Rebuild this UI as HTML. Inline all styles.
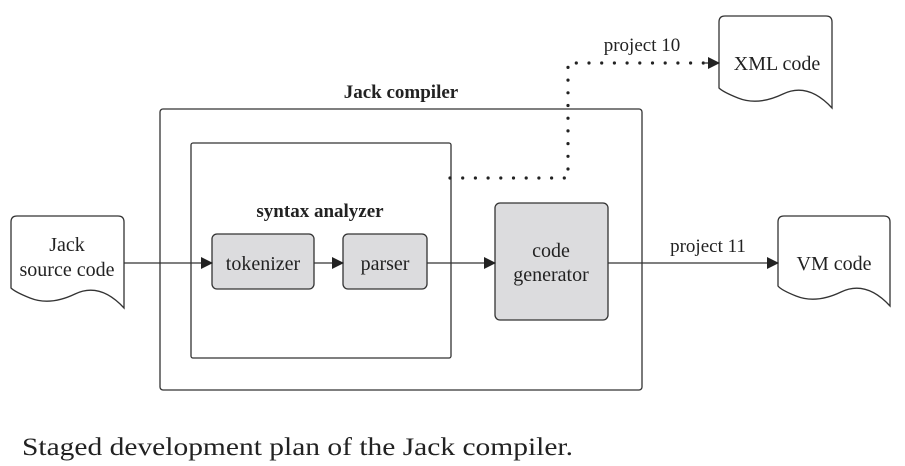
<!DOCTYPE html>
<html><head><style>body{margin:0;background:#fff}svg{display:block}text{font-family:"Liberation Serif",serif}</style></head>
<body>
<svg width="905" height="466" viewBox="0 0 905 466" xmlns="http://www.w3.org/2000/svg" fill="none" stroke="#333" stroke-width="1.3">
<defs><marker id="a" markerWidth="12" markerHeight="12" refX="11" refY="6" orient="auto" markerUnits="userSpaceOnUse"><path d="M0,0 L12,6 L0,12 z" fill="#222" stroke="none"/></marker></defs>
<rect x="160" y="109" width="482" height="281" rx="3"/>
<rect x="191" y="143" width="260" height="215" rx="2"/>
<path d="M11,222 Q11,216 17,216 L118,216 Q124,216 124,222 L124,308 Q100,282 75,294 Q50,306 30,298 Q15,292 11,288 Z"/>
<path d="M719,22 Q719,16 725,16 L826,16 Q832,16 832,22 L832,108 Q808,82 783,94 Q758,106 738,98 Q723,92 719,88 Z"/>
<path d="M778,222 Q778,216 784,216 L884,216 Q890,216 890,222 L890,306 Q866,280 841,292 Q816,304 796,296 Q781,290 778,286 Z"/>
<g fill="#dcdcde">
<rect x="212" y="234" width="102" height="55" rx="5"/>
<rect x="343" y="234" width="84" height="55" rx="5"/>
<rect x="495" y="203" width="113" height="117" rx="5"/>
</g>
<line x1="124" y1="263" x2="212" y2="263" marker-end="url(#a)"/>
<line x1="314" y1="263" x2="343" y2="263" marker-end="url(#a)"/>
<line x1="427" y1="263" x2="495" y2="263" marker-end="url(#a)"/>
<line x1="608" y1="263" x2="778" y2="263" marker-end="url(#a)"/>
<path d="M450,178 L568,178 L568,63 L705,63" stroke="#222" stroke-width="3.2" stroke-linecap="round" stroke-dasharray="0 12.7"/>
<line x1="705" y1="63" x2="719" y2="63" marker-end="url(#a)"/>
<g fill="#222" stroke="none" font-size="20" text-anchor="middle">
<text x="401" y="98" font-weight="bold" font-size="19">Jack compiler</text>
<text x="320" y="217" font-weight="bold" font-size="19">syntax analyzer</text>
<text x="67" y="251">Jack</text>
<text x="67" y="276">source code</text>
<text x="263" y="270">tokenizer</text>
<text x="385" y="270">parser</text>
<text x="551" y="257">code</text>
<text x="551" y="281">generator</text>
<text x="642" y="51" font-size="19">project 10</text>
<text x="777" y="70">XML code</text>
<text x="708" y="252" font-size="19">project 11</text>
<text x="834" y="270">VM code</text>
<text x="22" y="455" font-size="25" text-anchor="start" textLength="551" lengthAdjust="spacingAndGlyphs">Staged development plan of the Jack compiler.</text>
</g>
</svg>
</body></html>
